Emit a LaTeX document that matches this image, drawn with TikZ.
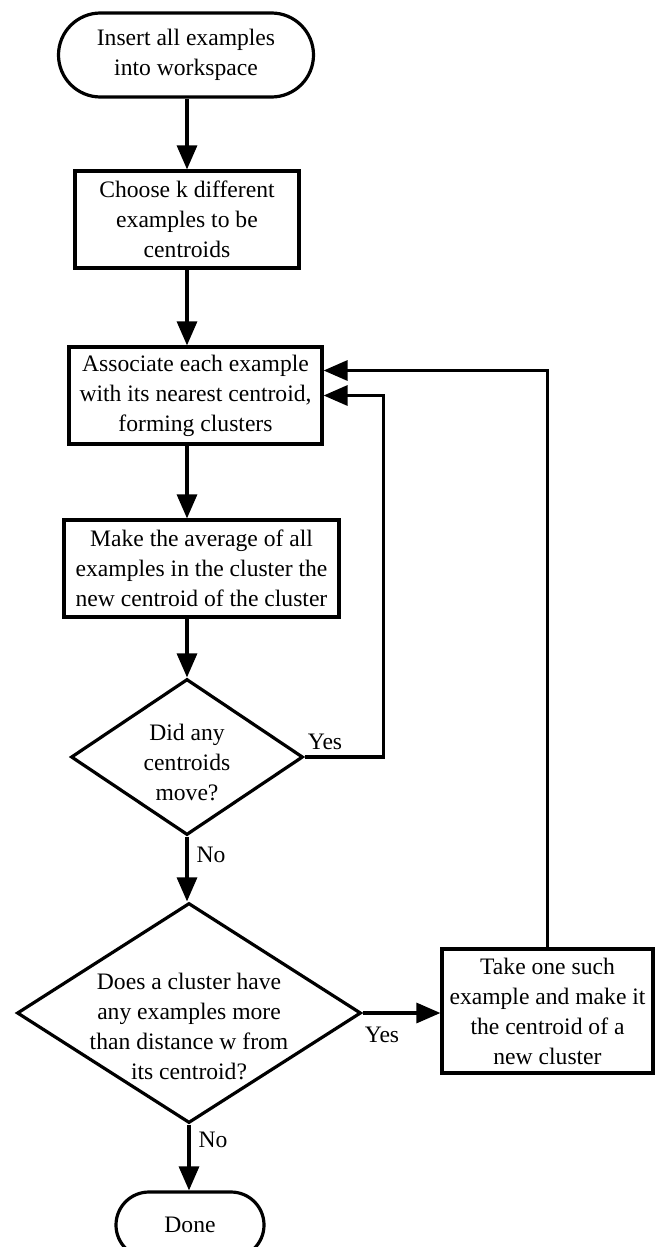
\documentclass[tikz,border=0pt]{standalone}
\usepackage{fontspec}
\setmainfont{Liberation Serif}
\usetikzlibrary{arrows.meta,positioning,shapes.geometric,shapes.misc}

\begin{document}
\begin{tikzpicture}[x=0.5pt,y=-0.5pt,>={Triangle[length=12pt,width=10pt]}, every node/.style={font=\fontsize{11.8}{15}\selectfont}]
    \tikzset{term/.style={draw,line width=1.6pt,rounded rectangle,align=center,inner sep=0pt}}
    \tikzset{proc/.style={draw,line width=1.6pt,rectangle,align=center,inner sep=0pt}}
    \tikzset{decide/.style={draw,line width=1.6pt,diamond,inner sep=0pt}}
    \tikzset{flow/.style={->,line width=1.6pt}}
    \tikzset{ans/.style={inner sep=1pt}}

    \useasboundingbox (0,0) rectangle (661,1247);

    % Main column
    \node[term,minimum width=127.5pt,minimum height=42pt] (insert) at (186,55) {Insert all examples\\into workspace};
    \node[proc,minimum width=112pt,minimum height=48.5pt] (choose) at (187,219.5) {Choose k different\\examples to be\\centroids};
    \node[proc,minimum width=126.5pt,minimum height=48.5pt] (assoc) at (195.5,395.5) {Associate each example\\with its nearest centroid,\\forming clusters};
    \node[proc,minimum width=137.5pt,minimum height=48.5pt] (avg) at (201.5,568.5) {Make the average of all\\examples in the cluster the\\new centroid of the cluster};
    \node[decide,minimum width=116pt,minimum height=78pt,label={[align=center,yshift=-2.5pt]center:Did any\\centroids\\move?}] (moved) at (187,757) {};
    \node[decide,minimum width=172pt,minimum height=110pt,label={[align=center,yshift=-6.5pt]center:Does a cluster have\\any examples more\\than distance w from\\its centroid?}] (far) at (189,1013) {};
    \node[term,minimum width=74pt,minimum height=33pt] (done) at (190,1225) {Done};

    % Side
    \node[proc,minimum width=105.5pt,minimum height=62pt] (split) at (547.5,1011) {Take one such\\example and make it\\the centroid of a\\new cluster};

    % Answers
    \node[ans] (yes1) at (325,742) {Yes};
    \node[ans] (no1) at (211,855) {No};
    \node[ans] (yes2) at (382,1035) {Yes};
    \node[ans] (no2) at (213,1140) {No};

    % Arrows
    \draw[flow] (insert.south -| choose) -- (choose.north);
    \draw[flow] (choose.south) -- (choose.south |- assoc.north);
    \draw[flow] (assoc.south -| choose) -- (choose |- avg.north);
    \draw[flow] (avg.south -| moved) -- (moved.north);
    \draw[flow] (moved.south) -- (moved.south |- far.north);
    \draw[flow] (far.south) -- (far.south |- done.north);
    \draw[flow] (moved.east) -- ++(79,0) |- (assoc.east);
    \draw[flow] (far.east) -- (far.east -| split.west);
    \draw[flow] (split.north) |- ([yshift=12.5pt]assoc.east);
  \end{tikzpicture}
\end{document}
